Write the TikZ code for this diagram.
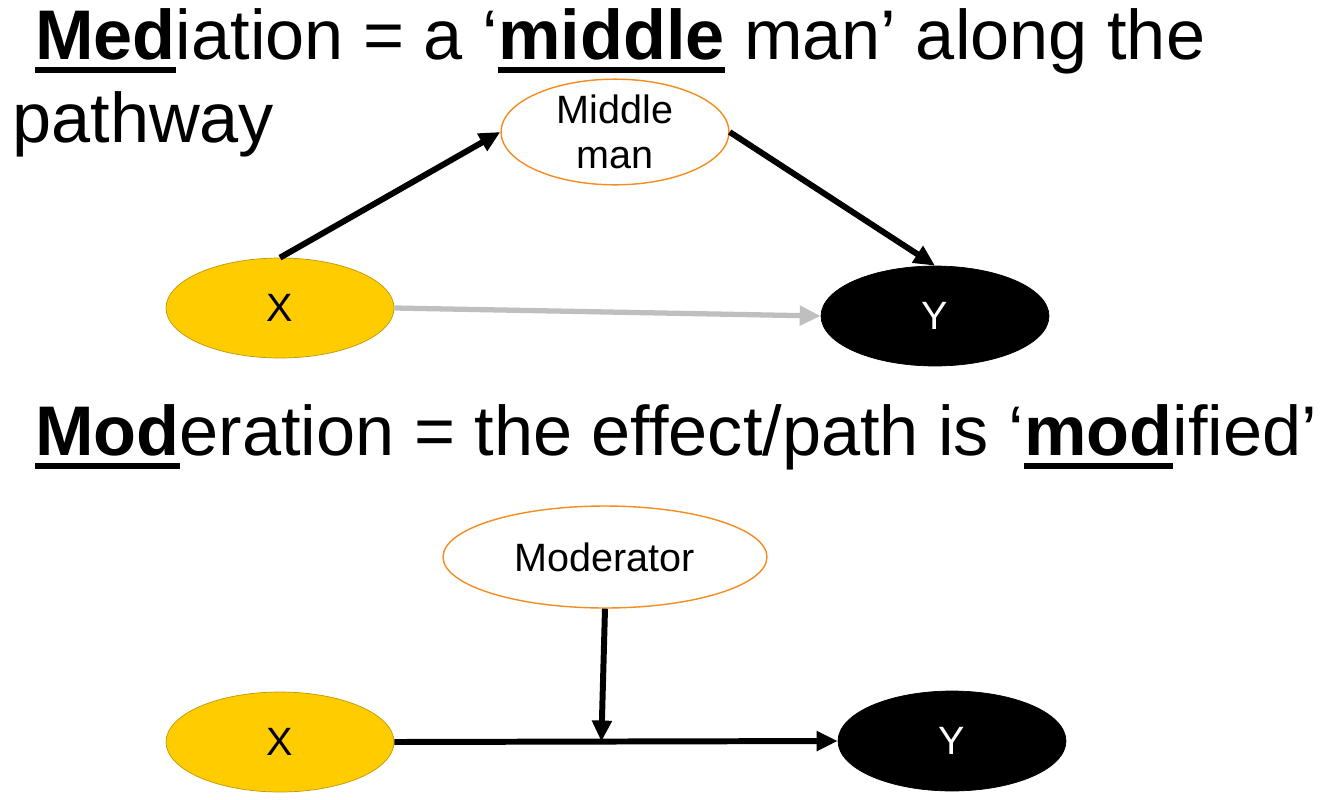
\documentclass[tikz,border=0pt]{standalone}
\usepackage{fontspec}
\setmainfont{Liberation Sans}
\usetikzlibrary{calc,positioning,arrows.meta,shapes}
\definecolor{xgold}{RGB}{255,204,0}
\definecolor{xedge}{RGB}{191,153,0}
\definecolor{medorange}{RGB}{245,140,30}
\definecolor{direct}{RGB}{191,191,191}
\newcommand{\ulbold}[1]{\setbox0\hbox{\bfseries #1}\rlap{\rule[-0.28cm]{\wd0}{0.13cm}}\box0\relax}

\begin{document}
\begin{tikzpicture}[x=0.02cm,y=-0.02cm]
\useasboundingbox (0,0) rectangle (1326,799);
\tikzstyle{ell}=[ellipse, draw, inner sep=0pt, minimum width=4.56cm, minimum height=2cm, align=center, font=\fontsize{22.5}{26}\selectfont]
\tikzstyle{xvar}=[ell, fill=xgold, draw=xedge]
\tikzstyle{yvar}=[ell, fill=black, text=white]
\tikzstyle{thirdvar}=[ell, draw=medorange, fill=white, thick]
\tikzstyle{path}=[line width=3.4pt, -{Triangle[length=0.42cm,width=0.38cm]}]
\tikzstyle{head}=[anchor=base west, inner sep=0pt, font=\fontsize{40}{46}\selectfont]

% mediation
\node[head] (h1) at (35,59) {\ulbold{Med}iation = a ‘\ulbold{middle} man’ along the};
\node[head] (h2) at (12,142) {pathway};
\node[thirdvar] (M1) at (615,132) {Middle\\man};
\node[xvar] (X1) at (280,308) {X};
\node[yvar] (Y1) at (935,316) {Y};
\draw[path] (X1.north) -- (M1.west);
\draw[path] (M1.east) -- (Y1.north);
\draw[path, color=direct, line width=3pt] (X1.east) -- (Y1.west);

% moderation
\node[head] (h3) at (35,455) {\ulbold{Mod}eration = the effect/path is ‘\ulbold{mod}ified’};
\node[thirdvar, minimum width=6.48cm, minimum height=2.04cm] (M2) at (605,557) {Moderator};
\node[xvar] (X2) at (280,742) {X};
\node[yvar] (Y2) at (952,741) {Y};
\coordinate (on) at ($(X2.east)!0.467!(Y2.west)$);
\draw[path] (X2.east) -- (Y2.west);
\draw[path] (M2.south) -- (on);
\end{tikzpicture}
\end{document}
